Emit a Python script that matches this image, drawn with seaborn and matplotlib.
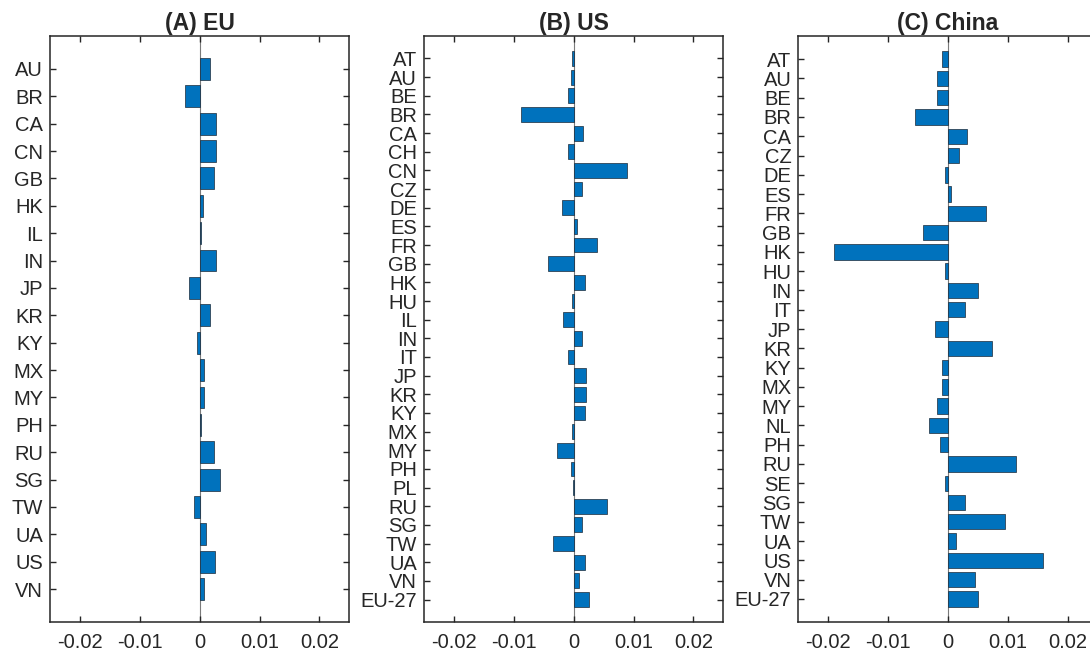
import matplotlib
matplotlib.use("Agg")
import matplotlib.pyplot as plt
import seaborn as sns
import pandas as pd

# ---------------- data ----------------
titles = ["(A) EU", "(B) US", "(C) China"]

cats_eu = ['AU', 'BR', 'CA', 'CN', 'GB', 'HK', 'IL', 'IN', 'JP', 'KR',
           'KY', 'MX', 'MY', 'PH', 'RU', 'SG', 'TW', 'UA', 'US', 'VN']
vals_eu = [0.0018, -0.0025, 0.0028, 0.0028, 0.0024, 0.0005, 0.0003, 0.0028, -0.0018, 0.0018,
           -0.00045, 0.0008, 0.0008, 0.0003, 0.0024, 0.0034, -0.0010, 0.00105, 0.00255, 0.0008]

cats_us = ['AT', 'AU', 'BE', 'BR', 'CA', 'CH', 'CN', 'CZ', 'DE', 'ES',
           'FR', 'GB', 'HK', 'HU', 'IL', 'IN', 'IT', 'JP', 'KR', 'KY',
           'MX', 'MY', 'PH', 'PL', 'RU', 'SG', 'TW', 'UA', 'VN', 'EU-27']
vals_us = [-0.0002, -0.00045, -0.00095, -0.0088, 0.00157, -0.00095, 0.0089, 0.00134, -0.00196, 0.0006,
           0.0039, -0.00426, 0.0019, -0.0002, -0.0017, 0.00134, -0.00095, 0.0021, 0.0021, 0.0019,
           -0.0002, -0.0027, -0.00045, -0.00015, 0.0055, 0.00134, -0.0035, 0.0019, 0.0009, 0.0026]

cats_cn = ['AT', 'AU', 'BE', 'BR', 'CA', 'CZ', 'DE', 'ES', 'FR', 'GB',
           'HK', 'HU', 'IN', 'IT', 'JP', 'KR', 'KY', 'MX', 'MY', 'NL',
           'PH', 'RU', 'SE', 'SG', 'TW', 'UA', 'US', 'VN', 'EU-27']
vals_cn = [-0.00095, -0.00184, -0.00184, -0.0055, 0.0032, 0.00184, -0.00045, 0.00045, 0.0064, -0.0041,
           -0.0190, -0.00045, 0.0050, 0.0028, -0.0022, 0.0073, -0.00095, -0.00095, -0.00184, -0.0032,
           -0.00134, 0.01145, -0.00045, 0.0028, 0.0095, 0.00134, 0.0158, 0.0046, 0.0050]

xticks = [-0.02, -0.01, 0, 0.01, 0.02]
xtick_labels = ['-0.02', '-0.01', '0', '0.01', '0.02']

# ---------------- style ----------------
sns.set_style("white")
plt.rcParams['font.family'] = ['Liberation Sans', 'DejaVu Sans']
plt.rcParams['axes.unicode_minus'] = False

BAR = '#0072BD'

fig = plt.figure(figsize=(10.9, 6.6), dpi=100)
W, H = 1090.0, 660.0
bottom = (H - 622) / H
height = (622 - 36) / H
width = 299.3 / W
lefts = [50 / W, 424 / W, 798.3 / W]

panels = [(cats_eu, vals_eu), (cats_us, vals_us), (cats_cn, vals_cn)]

for i, ((cats, vals), title) in enumerate(zip(panels, titles)):
    ax = fig.add_axes([lefts[i], bottom, width, height])
    df = pd.DataFrame({'country': cats, 'value': vals})
    ax.axvline(0, color='#7a7a7a', lw=0.8, zorder=0.5)
    sns.barplot(data=df, x='value', y='country', orient='h', ax=ax,
                color=BAR, saturation=1, width=0.8,
                edgecolor='#1c2a38', linewidth=0.5, zorder=2)
    n = len(cats)
    ax.set_ylim(n - 1 + 1.2, -1.2)
    ax.set_xlim(-0.025, 0.025)
    ax.set_xticks(xticks)
    ax.set_xticklabels(xtick_labels)
    ax.set_xlabel('')
    ax.set_ylabel('')
    ax.set_title(title, fontsize=16.5, fontweight='bold', pad=4)
    ax.tick_params(axis='both', direction='in', length=4.5, width=1.0,
                   color='#262626', labelsize=14.5, labelcolor='#262626')
    ax.tick_params(axis='x', top=True, bottom=True, pad=8)
    ax.tick_params(axis='y', left=True, right=True, pad=5)
    for sp in ax.spines.values():
        sp.set_visible(True)
        sp.set_linewidth(1.1)
        sp.set_color('#262626')
    ax.grid(False)

fig.savefig('out.png', dpi=100)
